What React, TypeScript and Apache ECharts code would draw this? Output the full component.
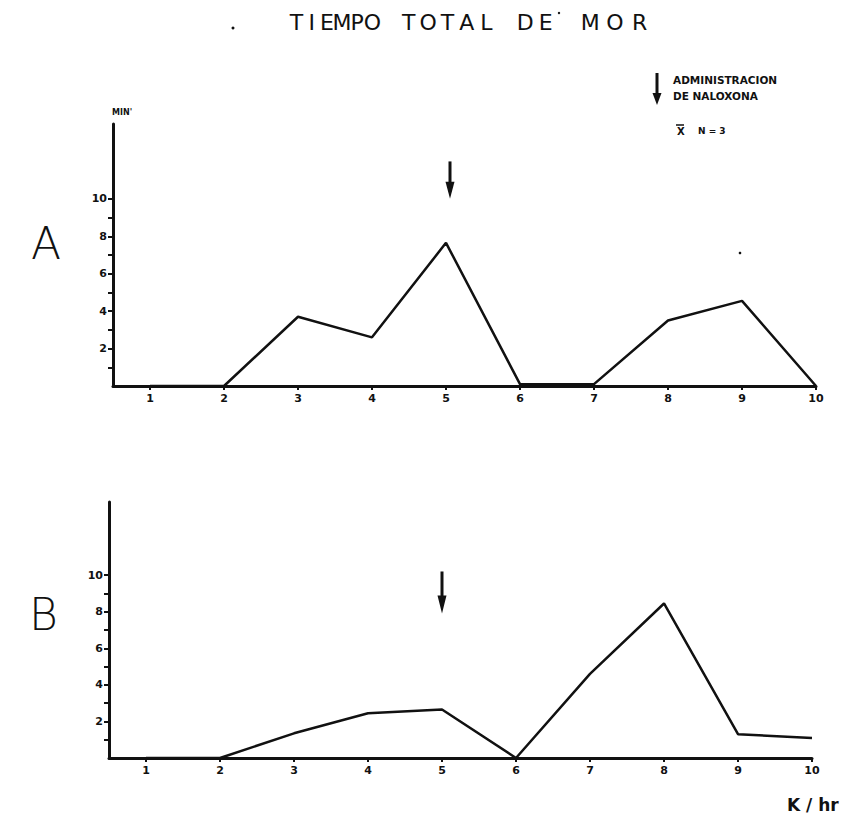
import { useEffect, useRef } from "react";
import * as echarts from "echarts";

// Hours (K/hr) on the x axis
const hours = [1, 2, 3, 4, 5, 6, 7, 8, 9, 10];
// Total MOR time (min) per hour, panel A and panel B
const panelA = [0, 0, 3.7, 2.6, 7.65, 0.1, 0.1, 3.5, 4.55, 0];
const panelB = [0, 0, 1.35, 2.45, 2.65, 0, 4.6, 8.45, 1.3, 1.1];
// Y ticks every minute up to 10, labelled on even values
const yTicks = [1, 2, 3, 4, 5, 6, 7, 8, 9, 10];
const yLabels = [2, 4, 6, 8, 10];
// Naloxone administration hour and arrow span (in minutes) per panel
const naloxoneHour = 5;
const arrowA = [12.0, 10.0];
const arrowB = [10.2, 7.9];

const INK = "#111";
const FONT = "DejaVu Sans";

function xAxisFor(gridIndex: number) {
  return {
    type: "value",
    gridIndex,
    min: 0.5,
    max: 10,
    axisLine: { onZero: false, lineStyle: { color: INK, width: 3 } },
    axisTick: { customValues: hours, length: 4, lineStyle: { color: INK, width: 2 } },
    axisLabel: {
      customValues: hours,
      color: INK,
      fontFamily: FONT,
      fontWeight: "bold",
      fontSize: 11,
      margin: 7,
    },
    splitLine: { show: false },
  };
}

function yAxisFor(gridIndex: number) {
  return {
    type: "value",
    gridIndex,
    min: 0,
    max: 14,
    axisLine: { show: true, onZero: false, lineStyle: { color: INK, width: 3 } },
    axisTick: { show: true, customValues: yTicks, length: 5, lineStyle: { color: INK, width: 2 } },
    axisLabel: {
      customValues: yLabels,
      color: INK,
      fontFamily: FONT,
      fontWeight: "bold",
      fontSize: 11,
      margin: 6,
    },
    splitLine: { show: false },
  };
}

function arrow(x: number, yTop: number, yBottom: number, head: number) {
  return [
    {
      type: "line",
      shape: { x1: x, y1: yTop, x2: x, y2: yBottom - head + 2 },
      style: { stroke: INK, lineWidth: 3 },
    },
    {
      type: "polygon",
      shape: {
        points: [
          [x - 4.5, yBottom - head],
          [x + 4.5, yBottom - head],
          [x, yBottom],
        ],
      },
      style: { fill: INK },
    },
  ];
}

function text(x: number, y: number, s: string, size: number, weight: any = "normal", align = "left") {
  return {
    type: "text",
    x,
    y,
    style: {
      text: s,
      fill: INK,
      font: `${weight} ${size}px "${FONT}"`,
      textAlign: align,
      textVerticalAlign: "middle",
    },
  };
}

// Lettering with even spacing across [x0, x1]
function spaced(word: string, x0: number, x1: number, y: number, size: number) {
  const step = (x1 - x0) / word.length;
  return word.split("").map((ch, i) => text(x0 + (i + 0.5) * step, y, ch, size, "normal", "center"));
}

export default function App() {
  const ref = useRef<HTMLDivElement>(null);

  useEffect(() => {
    document.body.style.margin = "0";
    const chart = echarts.init(ref.current!, undefined, { renderer: "svg" });
    chart.setOption({
      animation: false,
      backgroundColor: "#fff",
      grid: [
        { left: 113, top: 124, width: 703, height: 262 },
        { left: 109, top: 502, width: 703, height: 256 },
      ],
      xAxis: [xAxisFor(0), xAxisFor(1)],
      yAxis: [yAxisFor(0), yAxisFor(1)],
      series: [
        {
          type: "line",
          xAxisIndex: 0,
          yAxisIndex: 0,
          data: hours.map((h, i) => [h, panelA[i]]),
          symbol: "none",
          lineStyle: { color: INK, width: 2.5 },
        },
        {
          type: "line",
          xAxisIndex: 1,
          yAxisIndex: 1,
          data: hours.map((h, i) => [h, panelB[i]]),
          symbol: "none",
          lineStyle: { color: INK, width: 2.5 },
        },
      ],
    });

    const a1 = chart.convertToPixel({ gridIndex: 0 }, [naloxoneHour, arrowA[0]]) as number[];
    const a2 = chart.convertToPixel({ gridIndex: 0 }, [naloxoneHour, arrowA[1]]) as number[];
    const b1 = chart.convertToPixel({ gridIndex: 1 }, [naloxoneHour, arrowB[0]]) as number[];
    const b2 = chart.convertToPixel({ gridIndex: 1 }, [naloxoneHour, arrowB[1]]) as number[];

    chart.setOption({
      graphic: [
        // title
        ...spaced("TIEMPO", 289, 380, 22, 22),
        ...spaced("TOTAL", 399, 496, 22, 22),
        ...spaced("DE", 515, 556, 22, 22),
        ...spaced("MOR", 578, 652, 22, 22),
        { type: "circle", shape: { cx: 233, cy: 28, r: 1.5 }, style: { fill: INK } },
        { type: "circle", shape: { cx: 559, cy: 13, r: 1.2 }, style: { fill: INK } },
        { type: "circle", shape: { cx: 740, cy: 253, r: 1.3 }, style: { fill: INK } },
        // panel letters
        text(31, 243, "A", 44, 200),
        text(29, 614, "B", 44, 200),
        // y unit
        text(112, 112, "MIN'", 8, "bold"),
        // x unit
        text(787, 805, "K / hr", 17, "bold"),
        // legend
        ...arrow(657, 73, 105, 12),
        text(673, 80, "ADMINISTRACION", 10.5, "bold"),
        text(673, 96, "DE NALOXONA", 10.5, "bold"),
        text(677, 131, "X", 10, "bold"),
        { type: "line", shape: { x1: 676, y1: 125, x2: 684, y2: 125 }, style: { stroke: INK, lineWidth: 1.5 } },
        text(698, 131, "N = 3", 9, "bold"),
        // naloxone arrows
        ...arrow(a1[0] + 4, a1[1], a2[1], 17),
        ...arrow(b1[0], b1[1], b2[1], 18),
      ],
    });

    return () => chart.dispose();
  }, []);

  return (
    <div
      ref={ref}
      style={{ position: "absolute", left: 0, top: 0, width: 849, height: 822 }}
    />
  );
}
